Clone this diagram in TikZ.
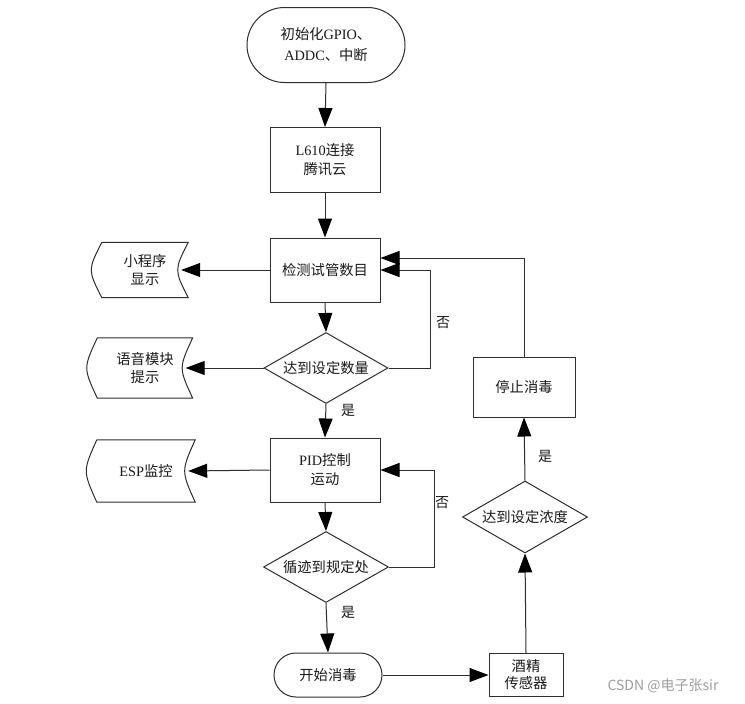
\documentclass[tikz,border=0pt]{standalone}
\usepackage{fontspec}
\setmainfont{Liberation Serif}
\newfontfamily\cjk{Noto Sans CJK SC}
\usetikzlibrary{shapes.geometric,shapes.misc,arrows.meta}
\definecolor{lncol}{HTML}{2E2E2E}
\definecolor{txtcol}{HTML}{1A1A1A}
\newcommand\storedpath[1]{\draw[ln] (#1.north west) -- (#1.north east) .. controls ([xshift=-14pt]#1.east) .. (#1.south east) -- (#1.south west) .. controls ([xshift=-14pt]#1.west) .. (#1.north west);}
\begin{document}
\begin{tikzpicture}[x=1pt,y=-1pt,
  every node/.style={font=\cjk\fontsize{14.3}{21}\selectfont, text=txtcol},
  ln/.style={draw=lncol, line width=1pt},
  arr/.style={ln, -{Triangle[length=19pt,width=14pt,color=black]}},
  term/.style={rounded rectangle, draw=lncol, line width=1pt, align=center, inner sep=0pt},
  box/.style={rectangle, draw=lncol, line width=1pt, align=center, inner sep=0pt},
  dec/.style={diamond, draw=lncol, line width=1pt, aspect=1.75, inner sep=0pt},
  sto/.style={inner sep=0pt, align=center},
  lbl/.style={font=\cjk\fontsize{14}{15}\selectfont}
]
\useasboundingbox (0,0) rectangle (745,704);
\fill[white] (0,0) rectangle (745,704);

\node[term, minimum width=158pt, minimum height=75pt] (start) at (326,45) {初始化{\rmfamily GPIO}、\\{\rmfamily ADDC}、中断};
\node[box, minimum width=110pt, minimum height=65pt] (l610) at (325,160) {{\rmfamily L610}连接\\[-2pt]腾讯云};
\node[box, minimum width=110pt, minimum height=64pt] (detect) at (325,270) {检测试管数目};
\node[dec, minimum width=124pt, minimum height=71pt] (d1) at (326,368) {达到设定数量};
\node[box, minimum width=110pt, minimum height=64pt] (pid) at (325,470) {{\rmfamily PID}控制\\[-2pt]运动};
\node[dec, minimum width=125pt, minimum height=71pt] (d2) at (326,567) {循迹到规定处};
\node[term, minimum width=108pt, minimum height=44pt] (kaishi) at (328,675) {开始消毒};
\node[box, minimum width=74pt, minimum height=43pt] (sensor) at (526,675) {酒精\\[-4pt]传感器};
\node[dec, minimum width=125pt, minimum height=72pt] (d3) at (525,517) {达到设定浓度};
\node[box, minimum width=102pt, minimum height=60pt] (stop) at (524,387) {停止消毒};

\node[sto, minimum width=86pt, minimum height=55pt] (s1) at (145,270) {小程序\\[-3pt]显示};
\node[sto, minimum width=95pt, minimum height=60pt] (s2) at (145,368) {语音模块\\[-3pt]提示};
\node[sto, minimum width=98pt, minimum height=62pt] (s3) at (146,471) {{\rmfamily ESP}监控};
\storedpath{s1}
\storedpath{s2}
\storedpath{s3}

\draw[arr] (start.south) -- (l610.north);
\draw[arr] (l610.south) -- (detect.north);
\draw[arr] (detect.west) -- ([xshift=-7pt]s1.east);
\draw[arr] (detect.south) -- (d1.north);
\draw[arr] (d1.west) -- ([xshift=-7pt]s2.east);
\draw[arr] (d1.south) -- (pid.north);
\draw[arr] (d1.east) -- ++(42,0) |- (detect.east);
\draw[arr] (pid.west) -- ([xshift=-7pt]s3.east);
\draw[arr] (pid.south) -- (d2.north);
\draw[arr] (d2.east) -- ++(45,0) |- (pid.east);
\draw[arr] (d2.south) -- (kaishi.north);
\draw[arr] (kaishi.east) -- (sensor.west);
\draw[arr] (sensor.north) -- (d3.south);
\draw[arr] (d3.north) -- (stop.south);
\draw[arr] (stop.north) |- ([yshift=12pt]detect.east);

\node[lbl] (y1) at (348,410) {是};
\node[lbl] (y2) at (348,612) {是};
\node[lbl] (y3) at (545,456) {是};
\node[lbl] (n1) at (443,323) {否};
\node[lbl] (n2) at (442,503) {否};

\node[font=\cjk\fontsize{14}{16}\selectfont, text=gray!75] (wm) at (663,686) {CSDN @电子张sir};
\end{tikzpicture}
\end{document}
